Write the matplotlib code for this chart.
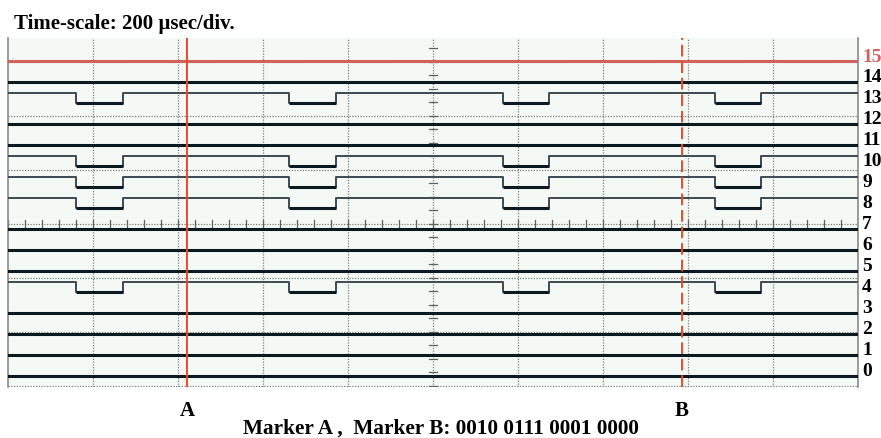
import matplotlib
matplotlib.use('Agg')
import matplotlib.pyplot as plt
import numpy as np

# logic analyzer capture, x in divisions (200 usec/div)
channels = list(range(16))
idle_high = [13, 10, 9, 8, 4]          # channels that sit high and pulse low
pulse_start = [0.80, 3.31, 5.82, 8.32]
pulse_end = [1.35, 3.86, 6.36, 8.86]
marker_a = 2.11
marker_b = 7.93
readout = '0010 0111 0001 0000'

fig = plt.figure(figsize=(8.81, 4.39), dpi=100)
ax = fig.add_axes([8 / 881, (439 - 388) / 439, 850 / 881, 349 / 439])
ax.set_facecolor('#f5f9f6')
ax.set_xlim(0, 10)
ax.set_ylim(-3.024, 3.439)
ax.set_xticks([])
ax.set_yticks([])
for s in ['top', 'bottom']:
    ax.spines[s].set_visible(False)
for s in ['left', 'right']:
    ax.spines[s].set_color('#8a8a8a')
    ax.spines[s].set_linewidth(1.2)

# graticule
for gx in range(1, 10):
    ax.axvline(gx, color='#7c7c7c', lw=0.9, ls=(0, (1, 1.2)), zorder=1)
for gy in range(-3, 4):
    ax.axhline(gy, color='#7c7c7c', lw=0.9, ls=(0, (1, 1.2)), zorder=1)
for tx in np.arange(0, 10.01, 0.2):
    ax.plot([tx, tx], [-0.06, 0.06], color='#606060', lw=0.9, zorder=1)
for ty in np.arange(-3, 3.5, 0.25):
    ax.plot([4.95, 5.05], [ty, ty], color='#606060', lw=0.9, zorder=1)

row_gap = 0.388
base0 = -2.815
high_off = 0.185
serif = 'Liberation Serif'

for ch in channels:
    y0 = base0 + row_gap * ch
    y1 = y0 + high_off
    lab_col = 'black'
    if ch == 15:
        ax.plot([0, 10], [y0, y0], color='#d2625c', lw=2.2, zorder=3)
        lab_col = '#d2625c'
    elif ch in idle_high:
        xs = [0]
        ys = [y1]
        for a, b in zip(pulse_start, pulse_end):
            xs += [a, a, b, b]
            ys += [y1, y0, y0, y1]
        xs.append(10)
        ys.append(y1)
        ax.plot(xs, ys, color='#3c4a52', lw=1.4, zorder=3)
        for a, b in zip(pulse_start, pulse_end):
            ax.plot([a, b], [y0, y0], color='#0b1a20', lw=2.2, zorder=4,
                    solid_capstyle='butt')
    else:
        ax.plot([0, 10], [y0, y0], color='#0b1a20', lw=2.2, zorder=3)
    ax.text(1.005, y0 + 0.1, str(ch), transform=ax.get_yaxis_transform(),
            ha='left', va='center', fontsize=14, fontweight='bold',
            family=serif, color=lab_col, clip_on=False)

# markers
ax.axvline(marker_a, color='#ee4b25', lw=1.4, zorder=5)
ax.axvline(marker_b, color='#ee4b25', lw=1.4, ls=(0, (6, 2.5)), zorder=5)

fig.text(14 / 881, 1 - 29 / 439, 'Time-scale: 200 \u00b5sec/div.', ha='left',
         va='baseline', fontsize=15, fontweight='bold', family=serif)
for m, name in [(marker_a, 'A'), (marker_b, 'B')]:
    fig.text((8 + m * 85) / 881, 1 - 416 / 439, name, ha='center', va='baseline',
             fontsize=15, fontweight='bold', family=serif)
fig.text(441 / 881, 1 - 433.5 / 439, 'Marker A ,  Marker B: ' + readout,
         ha='center', va='baseline', fontsize=15.3, fontweight='bold',
         family=serif)

fig.savefig('out.png', dpi=100)
